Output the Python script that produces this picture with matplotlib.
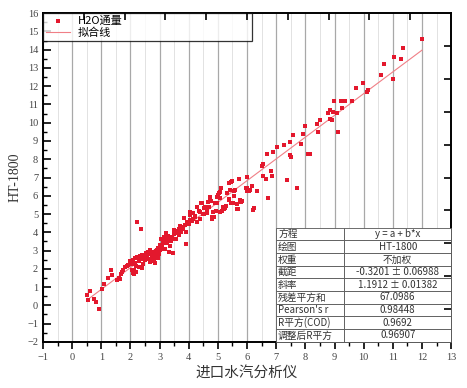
import matplotlib
matplotlib.use("Agg")
import matplotlib.pyplot as plt
from matplotlib.ticker import MultipleLocator

plt.rcParams['font.family'] = ['Noto Sans CJK SC', 'DejaVu Sans']

# 散点数据 (进口水汽分析仪, HT-1800)
x_vals = [0.52, 0.55, 0.61, 0.76, 0.82, 0.93, 1.01, 1.10, 1.22, 1.33, 1.36, 1.53, 1.60, 1.63,
          1.67, 1.72, 1.76, 1.82, 1.88, 1.93, 1.97, 2.03,
          2.05, 2.05, 2.08, 2.10, 2.12, 2.13, 2.16, 2.17, 2.19, 2.20, 2.22, 2.24, 2.26, 2.28,
          2.30, 2.33, 2.35, 2.36, 2.38, 2.39, 2.41, 2.43, 2.45, 2.47, 2.49, 2.52, 2.54, 2.56,
          2.58, 2.59, 2.62, 2.64, 2.66, 2.68, 2.70, 2.72, 2.74, 2.76, 2.78, 2.79, 2.81, 2.83,
          2.85, 2.87, 2.89, 2.91, 2.93, 2.95, 2.97,
          3.00, 3.02, 3.05, 3.07, 3.08, 3.11, 3.14, 3.16, 3.18, 3.20, 3.22, 3.25, 3.27, 3.29,
          3.31, 3.34, 3.37, 3.40, 3.43, 3.46, 3.48, 3.50, 3.53, 3.56, 3.59, 3.62, 3.65, 3.68,
          3.71, 3.75, 3.78, 3.80, 3.84, 3.86, 3.90, 3.92, 3.95,
          4.00, 4.03, 4.05, 4.06, 4.10, 4.15, 4.16, 4.20, 4.23, 4.28, 4.29, 4.34, 4.39, 4.40,
          4.43, 4.45, 4.50, 4.52, 4.54, 4.56, 4.62, 4.63, 4.67, 4.69, 4.72, 4.73, 4.77, 4.79,
          4.80, 4.82, 4.86, 4.90, 4.92, 4.96, 4.98,
          5.02, 5.03, 5.07, 5.07, 5.09, 5.07, 5.13, 5.17, 5.21, 5.23, 5.28, 5.30, 5.38, 5.38,
          5.39, 5.42, 5.44, 5.45, 5.48, 5.53, 5.55, 5.56, 5.59, 5.67, 5.67, 5.69, 5.74, 5.76,
          5.78, 5.82, 5.97, 5.99, 5.99, 6.01, 6.05,
          6.10, 6.16, 6.22, 6.24, 6.33, 6.51, 6.54, 6.56, 6.64, 6.68, 6.73, 6.82, 6.85, 6.88,
          7.04, 7.28, 7.38, 7.48, 7.48, 7.51, 7.59, 7.70, 7.85, 7.93, 7.99,
          8.10, 8.16, 8.39, 8.45, 8.51, 8.79, 8.83, 8.85, 8.91, 8.94, 8.99, 9.10, 9.13, 9.23,
          9.25, 9.36, 9.59, 9.74, 9.98, 10.13, 10.16, 10.58, 10.71, 10.99, 11.05, 11.27, 11.36, 12.00]
y_vals = [0.55, 0.31, 0.79, 0.33, 0.18, -0.18, 0.92, 1.17, 1.52, 1.93, 1.65, 1.41, 1.52, 1.45,
          1.74, 1.80, 1.93, 2.11, 2.18, 2.20, 2.42, 2.35,
          2.26, 1.93, 1.78, 2.48, 1.70, 1.96, 2.33, 2.59, 1.85, 2.15, 2.66, 4.55, 2.57, 2.40,
          2.10, 2.70, 2.55, 4.17, 2.62, 2.07, 2.75, 2.29, 2.60, 2.72, 2.50, 2.84, 2.68, 2.66,
          2.78, 2.94, 2.55, 2.88, 2.35, 3.03, 2.44, 2.80, 2.60, 2.48, 2.90, 2.84, 2.40, 2.66,
          2.33, 2.95, 2.75, 3.03, 2.57, 3.15, 2.80,
          3.30, 3.05, 3.61, 3.20, 3.06, 3.50, 3.43, 3.76, 3.10, 3.62, 3.94, 3.39, 3.55, 3.80,
          2.94, 3.70, 3.25, 3.52, 3.76, 2.84, 4.13, 3.90, 3.65, 3.61, 4.05, 3.94, 4.20, 3.85,
          4.35, 4.00, 4.30, 4.17, 4.77, 4.40, 3.36, 4.02, 4.55,
          4.46, 4.70, 5.13, 4.95, 4.60, 4.72, 5.04, 4.90, 4.86, 5.37, 4.59, 5.19, 5.13, 4.72,
          5.63, 5.62, 5.00, 5.32, 5.01, 5.37, 5.23, 5.05, 5.68, 5.41, 5.93, 5.86, 5.69, 4.82,
          4.72, 5.13, 4.86, 5.62, 5.19, 5.95, 5.60,
          6.04, 6.15, 6.23, 5.86, 6.42, 5.13, 5.19, 5.37, 5.26, 5.32, 5.45, 6.14, 5.82, 6.68,
          5.77, 6.32, 5.60, 6.77, 6.81, 5.59, 5.96, 6.26, 6.32, 5.56, 5.26, 5.27, 6.90, 5.77,
          5.68, 5.73, 6.44, 7.05, 6.41, 6.28, 6.28,
          6.32, 6.54, 5.23, 5.32, 6.28, 7.65, 7.72, 7.10, 6.92, 8.27, 5.86, 7.37, 7.10, 8.38,
          8.67, 8.80, 6.86, 8.96, 8.23, 8.14, 9.33, 6.44, 8.85, 9.36, 9.83,
          8.30, 8.29, 9.91, 9.51, 10.15, 10.51, 10.20, 10.70, 10.15, 10.60, 11.19, 10.51, 9.51, 11.20,
          10.79, 11.20, 11.20, 11.90, 12.19, 11.69, 11.79, 12.62, 13.19, 12.41, 13.61, 13.47, 14.10, 14.58]

# 线性拟合结果 (y = a + b*x)
fit_a = -0.3201
fit_b = 1.1912

table_labels = ['方程', '绘图', '权重', '截距', '斜率', '残差平方和',
                "Pearson's r", 'R平方(COD)', '调整后R平方']
table_values = ['y = a + b*x', 'HT-1800', '不加权', '-0.3201 ± 0.06988',
                '1.1912 ± 0.01382', '67.0986', '0.98448', '0.9692', '0.96907']

fig = plt.figure(figsize=(4.67, 3.88), dpi=100)
ax = fig.add_axes([0.092, 0.119, 0.874, 0.847])

# 网格
ax.set_xlim(-1, 13)
ax.set_ylim(-2, 16)
ax.xaxis.set_major_locator(MultipleLocator(1))
ax.xaxis.set_minor_locator(MultipleLocator(0.5))
ax.yaxis.set_major_locator(MultipleLocator(1))
ax.yaxis.set_minor_locator(MultipleLocator(0.5))
ax.grid(True, axis='x', which='major', color='#a8a8a8', lw=0.9)
ax.grid(True, axis='x', which='minor', color='#e2e2e2', lw=0.7)
ax.set_axisbelow(True)

red = '#e3182d'
ax.scatter(x_vals, y_vals, marker='s', s=6, color=red, lw=0, zorder=3, label='H2O通量')
xf = [min(x_vals), max(x_vals)]
yf = [fit_a + fit_b * v for v in xf]
ax.plot(xf, yf, color='#f07f86', lw=0.8, zorder=2, label='拟合线')

# 刻度
ax.tick_params(axis='y', which='major', direction='in', length=6, width=1.2,
               labelsize=7.5, labelcolor='#444444')
ax.tick_params(axis='y', which='minor', direction='in', length=3, width=1.0)
ax.tick_params(axis='x', which='major', direction='out', length=5, width=1.2,
               labelsize=7.5, labelcolor='#444444', pad=3)
ax.tick_params(axis='x', which='minor', direction='out', length=3, width=1.0)
for lab in ax.get_xticklabels() + ax.get_yticklabels():
    lab.set_fontfamily('Liberation Serif')
for s in ax.spines.values():
    s.set_linewidth(1.4)

ax.set_xlabel('进口水汽分析仪', fontsize=10.5, color='#333333', labelpad=3)
ax.set_ylabel('HT-1800', fontsize=10, family='Liberation Serif', color='#333333', labelpad=4)

# 顶部和右侧的刻度
axt = ax.twiny()
axt.set_xlim(0, 10)
axt.set_xticks(range(1, 10))
axt.tick_params(axis='x', direction='in', length=5, width=1.2, labeltop=False)
axr = ax.twinx()
axr.set_ylim(0, 10)
axr.set_yticks(range(1, 10))
axr.tick_params(axis='y', direction='in', length=5, width=1.2, labelright=False)
for a in (axt, axr):
    for s in a.spines.values():
        s.set_visible(False)

# 图例
leg = ax.legend(loc='upper left', bbox_to_anchor=(0, 0.912, 0.512, 0.088), mode='expand',
                fontsize=8, frameon=True, fancybox=False, edgecolor='black',
                borderaxespad=0, handlelength=2.2, handletextpad=0.7, borderpad=0.25,
                labelspacing=0.15, scatterpoints=1)
leg.get_frame().set_linewidth(0.9)
leg.legend_handles[0].set_sizes([5])
leg.set_zorder(10)

# 拟合结果表格
cells = [[l, v] for l, v in zip(table_labels, table_values)]
tbl = ax.table(cellText=cells, bbox=[0.571, 0.0, 0.429, 0.347], colWidths=[0.39, 0.61],
               zorder=8)
tbl.auto_set_font_size(False)
for (r, c), cell in tbl.get_celld().items():
    cell.set_edgecolor('#555555')
    cell.set_linewidth(0.6)
    cell.set_facecolor('white')
    txt = cell.get_text()
    txt.set_fontsize(7)
    txt.set_color('#333333')
    if c == 0:
        cell.set_text_props(ha='left')
        cell.PAD = 0.03
    else:
        cell.set_text_props(ha='center')

fig.savefig('out.png', dpi=100)
